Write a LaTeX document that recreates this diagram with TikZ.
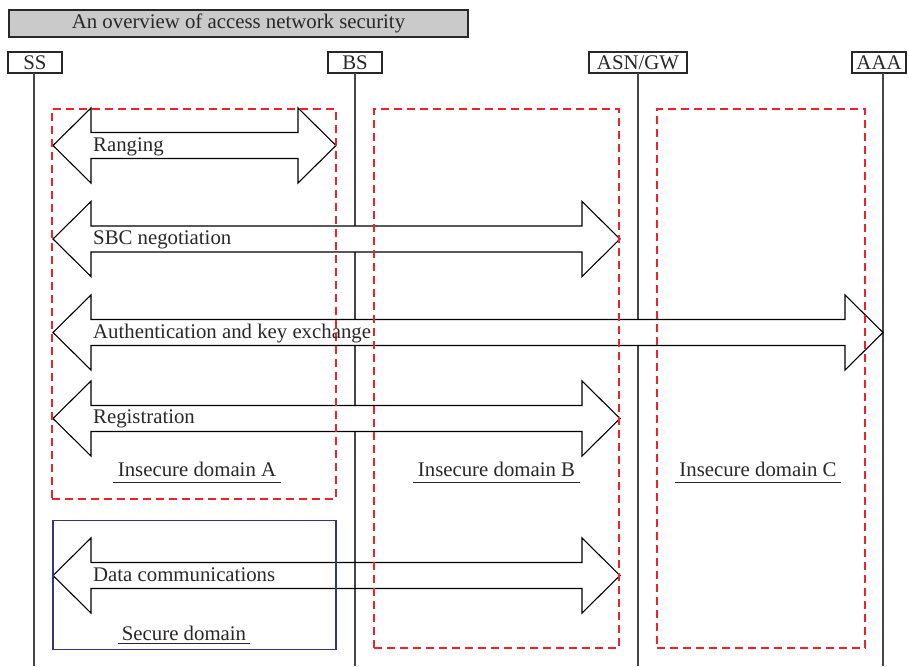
\documentclass[tikz,border=0pt]{standalone}
\usepackage{fontspec}
\setmainfont{Liberation Serif}
\usetikzlibrary{calc}
\definecolor{inkgray}{RGB}{40,40,40}
\definecolor{lifegray}{RGB}{70,70,70}
\definecolor{titlefill}{RGB}{202,202,202}
\definecolor{dashred}{RGB}{238,34,40}
\definecolor{navyline}{RGB}{52,52,132}

% double-headed block arrow between two tip coordinates
\newcommand\blockarrow[3]{%
  \draw[arrowbody,#1] (#2) -- ++(38,-37.5) -- ++(0,24.5)
    -- ($(#3)+(-38,-13)$) -- ++(0,-24.5) -- (#3) -- ++(-38,37.5) -- ++(0,-24.5)
    -- ($(#2)+(38,13)$) -- ++(0,24.5) -- cycle;}

\begin{document}
\begin{tikzpicture}[x=1pt,y=-1pt,
  every node/.style={font=\fontsize{20.8}{24}\selectfont, text=inkgray},
  entity/.style={draw=inkgray, line width=1.2pt, fill=white, minimum height=21pt, inner sep=0pt},
  lifeline/.style={draw=lifegray, line width=1.5pt},
  arrowbody/.style={draw=black, line width=1.1pt, line join=miter},
  redbox/.style={draw=dashred, line width=1.3pt, dash pattern=on 8pt off 5pt},
  securebox/.style={draw=navyline, line width=1.2pt},
  caption/.style={anchor=base, inner sep=0pt},
  msg/.style={anchor=base west, inner sep=0pt},
  uline/.style={draw=inkgray, line width=1.4pt}]
\useasboundingbox (0,0) rectangle (909,666);

% header and participants
\node[draw=inkgray, line width=1.2pt, fill=titlefill, minimum width=459pt, minimum height=27pt, inner sep=0pt]
  (title) at (238.5,23.5) {An overview of access network security};
\node[entity, minimum width=54pt] (ss) at (35,62.5) {SS};
\node[entity, minimum width=54pt] (bs) at (355,62.5) {BS};
\node[entity, minimum width=98pt] (asn) at (638,62.5) {ASN/GW};
\node[entity, minimum width=54pt] (aaa) at (879,62.5) {AAA};

% lifelines
\coordinate (ssTop) at (34,73);   \coordinate (ssEnd) at (34,666);
\coordinate (bsTop) at (355,73);  \coordinate (bsEnd) at (355,666);
\coordinate (asnTop) at (638,73); \coordinate (asnEnd) at (638,666);
\coordinate (aaaTop) at (883,73); \coordinate (aaaEnd) at (883,666);
\draw[lifeline] (ssTop) -- (ssEnd);
\draw[lifeline] (bsTop) -- (bsEnd);
\draw[lifeline] (asnTop) -- (asnEnd);
\draw[lifeline] (aaaTop) -- (aaaEnd);

% message arrows
\coordinate (rgL) at (53,145.5);  \coordinate (rgR) at (336,145.5);
\coordinate (sbL) at (53,239);    \coordinate (sbR) at (620,239);
\coordinate (auL) at (53,332.5);  \coordinate (auR) at (883,332.5);
\coordinate (reL) at (53,418.5);  \coordinate (reR) at (620,418.5);
\coordinate (dcL) at (53,575.5);  \coordinate (dcR) at (620,575.5);
\blockarrow{fill=white}{rgL}{rgR}
\blockarrow{fill=white}{sbL}{sbR}
\blockarrow{fill=white}{auL}{auR}
\blockarrow{fill=white}{reL}{reR}
\blockarrow{}{dcL}{dcR}

% security domains
\node[redbox, minimum width=284pt, minimum height=390pt, inner sep=0pt] (domA) at (194,304) {};
\node[redbox, minimum width=245pt, minimum height=539pt, inner sep=0pt] (domB) at (496.5,378.5) {};
\node[redbox, minimum width=208pt, minimum height=539pt, inner sep=0pt] (domC) at (761,378.5) {};
\node[securebox, minimum width=283pt, minimum height=129pt, inner sep=0pt] (domS) at (194.5,585) {};

% message labels
\node[msg] (lRanging) at (93,151) {Ranging};
\node[msg] (lSbc) at (93,244) {SBC negotiation};
\node[msg] (lAuth) at (93,338) {Authentication and key exchange};
\node[msg] (lReg) at (93,423.5) {Registration};
\node[msg] (lData) at (93,581.5) {Data communications};

% domain captions
\node[caption] (cA) at (197,476.7) {Insecure domain A};
\node[caption] (cB) at (496.5,476.7) {Insecure domain B};
\node[caption] (cC) at (758,476.7) {Insecure domain C};
\node[caption] (cS) at (184,640.7) {Secure domain};
\draw[uline] ($(cA.base west)+(-4.5,5.6)$) -- ($(cA.base east)+(4.5,5.6)$);
\draw[uline] ($(cB.base west)+(-4.5,5.6)$) -- ($(cB.base east)+(4.5,5.6)$);
\draw[uline] ($(cC.base west)+(-4.5,5.6)$) -- ($(cC.base east)+(4.5,5.6)$);
\draw[uline] ($(cS.base west)+(-4,2.8)$) -- ($(cS.base east)+(4,2.8)$);
\end{tikzpicture}
\end{document}
